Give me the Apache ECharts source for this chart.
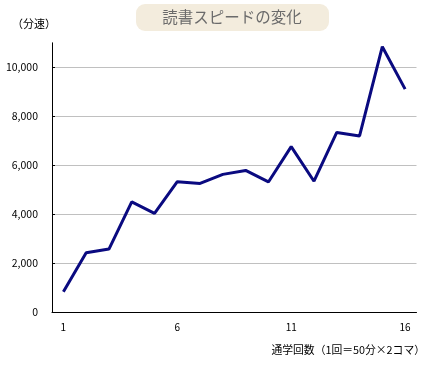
<!DOCTYPE html>
<html><head><meta charset="utf-8">
<script src="https://cdn.jsdelivr.net/npm/echarts@6/dist/echarts.min.js"></script>
<style>html,body{margin:0;padding:0;background:#fff}#c{width:432px;height:368px}</style>
</head><body><div id="c"></div>
<script>
const categories = ['1','2','3','4','5','6','7','8','9','10','11','12','13','14','15','16'];
const speeds = [840, 2430, 2580, 4510, 4040, 5330, 5260, 5630, 5790, 5320, 6760, 5350, 7340, 7200, 10840, 9110];
const titleText = '読書スピードの変化';
const yName = '（分速）';
const xName = '通学回数（1回＝50分×2コマ）';
const FONT = '"Noto Sans CJK JP", sans-serif';

const chart = echarts.init(document.getElementById('c'), null, {renderer: 'canvas'});
chart.setOption({
  animation: false,
  grid: {left: 52, right: 15.5, top: 42.8, bottom: 55.7},
  graphic: [
    {type: 'rect', shape: {x: 136, y: 4, width: 193, height: 27, r: 9}, style: {fill: '#f3ecdd'}},
    {type: 'text', x: 232, y: 17.5, style: {text: titleText, fill: '#6b6b6b', font: '15.5px ' + FONT, textAlign: 'center', textVerticalAlign: 'middle'}},
    {type: 'text', x: 12, y: 24, style: {text: yName, fill: '#000', font: '11px ' + FONT, textAlign: 'left', textVerticalAlign: 'middle'}},
    {type: 'text', x: 425, y: 350, style: {text: xName, fill: '#000', font: '10.8px ' + FONT, textAlign: 'right', textVerticalAlign: 'middle'}}
  ],
  xAxis: {
    type: 'category', data: categories, boundaryGap: true,
    axisLine: {lineStyle: {color: '#000', width: 1}},
    axisTick: {inside: true, length: 3, interval: 0, lineStyle: {color: '#000'}},
    axisLabel: {interval: 4, color: '#000', fontSize: 10, fontFamily: FONT, margin: 10},
    splitLine: {show: false}
  },
  yAxis: {
    type: 'value', min: 0, max: 11000, interval: 2000,
    axisLine: {show: true, lineStyle: {color: '#000', width: 1}},
    axisTick: {show: true, inside: true, length: 3, lineStyle: {color: '#000'}},
    axisLabel: {color: '#000', fontSize: 10.5, fontFamily: FONT, margin: 14,
      formatter: v => v > 10000 ? '' : v.toLocaleString('en-US'), showMaxLabel: false},
    splitLine: {show: true, showMaxLine: false, lineStyle: {color: '#c0c0c0', width: 1}}
  },
  series: [{
    type: 'line', data: speeds, symbol: 'none',
    lineStyle: {color: '#0a0a80', width: 3}
  }]
});
</script></body></html>
